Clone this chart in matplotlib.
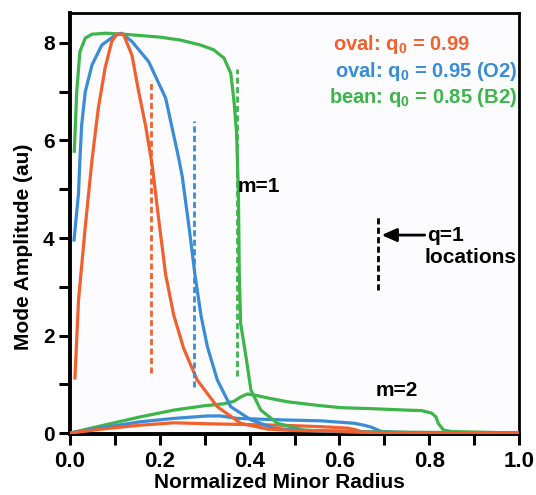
import matplotlib
matplotlib.use("Agg")
import matplotlib.pyplot as plt
from matplotlib import font_manager

names = {f.name for f in font_manager.fontManager.ttflist}
FONT = "Liberation Sans Narrow" if "Liberation Sans Narrow" in names else "Liberation Sans"

plt.rcParams['font.family'] = [FONT, 'DejaVu Sans']
plt.rcParams['font.weight'] = 'bold'
plt.rcParams['mathtext.fontset'] = 'custom'
plt.rcParams['mathtext.rm'] = FONT + ':bold'
plt.rcParams['mathtext.default'] = 'rm'

RED = '#F2602E'
BLUE = '#3A8CD6'
GREEN = '#3DB54A'

# m=1 mode profiles
red_m1_x = [0.011, 0.019, 0.034, 0.049, 0.063, 0.078, 0.093, 0.104, 0.119, 0.138, 0.153, 0.168, 0.183,
            0.198, 0.213, 0.231, 0.253, 0.283, 0.328, 0.38, 0.44, 0.5, 0.6, 0.65, 0.7, 1.0]
red_m1_y = [1.13, 2.73, 4.23, 5.6, 6.66, 7.48, 8.03, 8.18, 8.18, 7.75, 7.0, 6.32, 5.5,
            4.35, 3.25, 2.42, 1.74, 1.09, 0.54, 0.2, 0.08, 0.05, 0.04, 0.02, 0.0, 0.0]

blue_m1_x = [0.009, 0.019, 0.022, 0.026, 0.034, 0.049, 0.071, 0.101, 0.115, 0.138, 0.175, 0.213, 0.242,
             0.25, 0.265, 0.279, 0.292, 0.306, 0.328, 0.358, 0.403, 0.454, 0.5, 0.6, 0.7, 1.0]
blue_m1_y = [3.96, 4.92, 5.6, 6.32, 7.0, 7.55, 7.96, 8.16, 8.2, 8.03, 7.62, 6.87, 5.64,
             5.26, 4.23, 3.2, 2.4, 1.77, 1.09, 0.54, 0.27, 0.1, 0.06, 0.03, 0.01, 0.0]

green_m1_x = [0.0096, 0.015, 0.022, 0.034, 0.049, 0.08, 0.12, 0.2, 0.246, 0.29, 0.32, 0.343, 0.358,
              0.365, 0.371, 0.375, 0.377, 0.38, 0.392, 0.403, 0.425, 0.462, 0.52, 0.6, 0.7, 1.0]
green_m1_y = [5.78, 7.0, 7.82, 8.1, 8.18, 8.2, 8.18, 8.12, 8.06, 7.96, 7.86, 7.69, 7.38,
              6.83, 6.15, 4.95, 3.28, 2.25, 1.56, 0.88, 0.47, 0.2, 0.06, 0.03, 0.02, 0.0]

# m=2 mode profiles
green_m2_x = [0.0, 0.08, 0.156, 0.231, 0.3, 0.343, 0.365, 0.38, 0.395, 0.41, 0.44, 0.485, 0.559,
              0.604, 0.67, 0.75, 0.783, 0.805, 0.815, 0.82, 0.832, 0.85, 0.9, 0.95, 1.0]
green_m2_y = [0.0, 0.17, 0.33, 0.47, 0.56, 0.6, 0.65, 0.74, 0.8, 0.78, 0.72, 0.64, 0.56,
              0.52, 0.5, 0.47, 0.46, 0.41, 0.33, 0.2, 0.06, 0.03, 0.02, 0.01, 0.0]

blue_m2_x = [0.0, 0.08, 0.156, 0.231, 0.306, 0.335, 0.373, 0.47, 0.559, 0.604, 0.633, 0.655, 0.671,
             0.694, 0.75, 1.0]
blue_m2_y = [0.0, 0.12, 0.23, 0.3, 0.35, 0.35, 0.3, 0.27, 0.25, 0.22, 0.2, 0.16, 0.12,
             0.03, 0.01, 0.0]

red_m2_x = [0.0, 0.08, 0.156, 0.231, 0.306, 0.47, 0.559, 0.619, 0.635, 0.649, 0.7, 1.0]
red_m2_y = [0.0, 0.09, 0.16, 0.21, 0.19, 0.16, 0.13, 0.1, 0.07, 0.03, 0.01, 0.0]

# q=1 locations (x, y_bottom, y_top)
q1_red = (0.181, 1.23, 7.24)
q1_blue = (0.276, 0.95, 6.39)
q1_green = (0.373, 1.16, 7.46)
q1_black = (0.687, 2.93, 4.45)

legend_labels = [r"oval: q$_{0}$ = 0.99", r"oval: q$_{0}$ = 0.95 (O2)", r"bean: q$_{0}$ = 0.85 (B2)"]
x_ticks = [0.0, 0.2, 0.4, 0.6, 0.8, 1.0]
y_ticks = [0, 2, 4, 6, 8]

fig = plt.figure(figsize=(5.36, 4.95), dpi=100)
fig.patch.set_facecolor('white')
ax = fig.add_axes([70/536, 1-434/495, 449/536, (434-13)/495])
ax.set_facecolor('#FCFCFE')

lw = 2.3
ax.plot(green_m2_x, green_m2_y, color=GREEN, lw=lw, zorder=3)
ax.plot(blue_m2_x, blue_m2_y, color=BLUE, lw=lw, zorder=3)
ax.plot(red_m2_x, red_m2_y, color=RED, lw=lw, zorder=3)
ax.plot(green_m1_x, green_m1_y, color=GREEN, lw=lw, zorder=3)
ax.plot(blue_m1_x, blue_m1_y, color=BLUE, lw=lw, zorder=3)
ax.plot(red_m1_x, red_m1_y, color=RED, lw=lw, zorder=3)

for (xq, y0, y1), c in [(q1_red, RED), (q1_blue, BLUE), (q1_green, GREEN), (q1_black, 'black')]:
    ax.plot([xq, xq], [y0, y1], color=c, lw=2.0, ls=(0, (2.2, 1.2)), zorder=4)

ax.set_xlim(0, 1.0)
ax.set_ylim(-0.02, 8.615)
ax.set_xticks(x_ticks)
ax.set_xticklabels([f"{v:.1f}" for v in x_ticks])
ax.set_xticks([0.1, 0.3, 0.5, 0.7, 0.9], minor=True)
ax.set_yticks(y_ticks)
ax.set_yticks([1, 3, 5, 7], minor=True)
ax.tick_params(which='both', direction='out', length=8, width=2.2, color='black')
ax.tick_params(axis='x', labelsize=16, pad=4)
ax.tick_params(axis='y', labelsize=15, pad=3)
for s in ['left', 'bottom']:
    ax.spines[s].set_linewidth(2.8)
for s in ['top', 'right']:
    ax.spines[s].set_linewidth(2.0)

ax.set_xlabel("Normalized Minor Radius", fontsize=15, fontweight='bold')
ax.set_ylabel("Mode Amplitude (au)", fontsize=15, fontweight='bold')
ax.xaxis.set_label_coords(0.467, -0.093)
ax.yaxis.set_label_coords(-0.082, 0.444)

ax.text(0.586, 7.96, legend_labels[0], color=RED, fontsize=14.5, ha='left', va='center')
ax.text(0.9955, 7.41, legend_labels[1], color=BLUE, fontsize=14.5, ha='right', va='center')
ax.text(0.9955, 6.89, legend_labels[2], color=GREEN, fontsize=14.5, ha='right', va='center')

ax.text(0.42, 5.05, "m=1", fontsize=15, ha='center', va='center')
ax.text(0.727, 0.88, "m=2", fontsize=15, ha='center', va='center')
ax.annotate("", xy=(0.694, 4.06), xytext=(0.79, 4.06),
            arrowprops=dict(arrowstyle='-|>,head_length=0.9,head_width=0.4', color='black', lw=2.0,
                            shrinkA=0, shrinkB=0))
ax.text(0.795, 4.06, "q=1", fontsize=15, ha='left', va='center')
ax.text(0.9955, 3.59, "locations", fontsize=15, ha='right', va='center')

fig.savefig("out.png", dpi=100, facecolor='white')
